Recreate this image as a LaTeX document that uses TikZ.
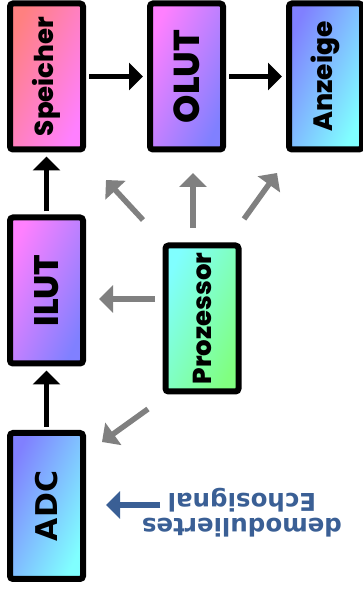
\documentclass[tikz,border=0pt]{standalone}
\usepackage{graphicx}
\usepackage{fontspec}
\newfontfamily\blockfont{Poppins}[UprightFont={* ExtraBold}, BoldFont={* ExtraBold}]
\newfontfamily\plainfont{DejaVu Sans}
\usetikzlibrary{arrows.meta, positioning}

\definecolor{salmon}{HTML}{FF8080}
\definecolor{pinkish}{HTML}{FF80FF}
\definecolor{violet}{HTML}{8080FF}
\definecolor{cyanish}{HTML}{80FFFF}
\definecolor{greenish}{HTML}{80FF80}
\definecolor{feedgray}{HTML}{808080}
\definecolor{echoblue}{HTML}{3A5F95}

\tikzset{
	block/.style 2 args={draw=black, line width=6pt, rounded corners=3pt,
		minimum width=73pt, minimum height=146pt, inner sep=0pt,
		left color=#1, right color=#2, shading angle=65},
	flow/.style={draw=black, line width=5.5pt, shorten <=3pt, shorten >=4pt,
		-{Triangle[length=14pt, width=27pt]}},
	feed/.style={draw=feedgray, line width=5.5pt,
		-{Triangle[length=14pt, width=27pt]}},
	echo/.style={draw=echoblue, line width=5.5pt,
		-{Triangle[length=14pt, width=27pt]}}
}

\begin{document}
\begin{tikzpicture}[x=1pt, y=1pt]
	\useasboundingbox (0,0) rectangle (363,589);
	% upper row
	\node[block={salmon}{pinkish}] (speicher) at (46.5,512.5)
		{\rotatebox{90}{\blockfont\fontsize{26}{30}\selectfont Speicher}};
	\node[block={pinkish}{violet}] (olut) at (186.5,512.5)
		{\rotatebox{90}{\blockfont\fontsize{36}{40}\selectfont OLUT}};
	\node[block={violet}{cyanish}] (anzeige) at (325.5,512.5)
		{\rotatebox{90}{\blockfont\fontsize{26.5}{30}\selectfont Anzeige}};
	% left column
	\node[block={pinkish}{violet}] (ilut) at (46.5,298.5)
		{\rotatebox{90}{\blockfont\fontsize{34}{38}\selectfont ILUT}};
	\node[block={violet}{cyanish}] (adc) at (46.5,83)
		{\rotatebox{90}{\plainfont\bfseries\fontsize{30}{36}\selectfont ADC}};
	\node[block={cyanish}{greenish}] (prozessor) at (202,270.5)
		{\rotatebox{90}{\blockfont\fontsize{26}{30}\selectfont Prozessor}};
	% signal chain
	\draw[flow] (adc) -- (ilut);
	\draw[flow] (ilut) -- (speicher);
	\draw[flow] (speicher) -- (olut);
	\draw[flow] (olut) -- (anzeige);
	% control lines from the processor
	\coordinate (c1a) at (143,369); \coordinate (c1b) at (106,409);
	\coordinate (c2a) at (193,361); \coordinate (c2b) at (193,416);
	\coordinate (c3a) at (244,370); \coordinate (c3b) at (277,416);
	\coordinate (c4a) at (155,290); \coordinate (c4b) at (99,290);
	\coordinate (c5a) at (148,180); \coordinate (c5b) at (102,147);
	\draw[feed] (c1a) -- (c1b);
	\draw[feed] (c2a) -- (c2b);
	\draw[feed] (c3a) -- (c3b);
	\draw[feed] (c4a) -- (c4b);
	\draw[feed] (c5a) -- (c5b);
	% input signal
	\node[rotate=180, align=center, text=echoblue, inner sep=0pt,
		font=\plainfont\bfseries\fontsize{24.5}{25}\selectfont] (signal) at (242,76)
		{demoduliertes\\Echosignal};
	\coordinate (in) at (160,84);
	\coordinate (inb) at (106,84);
	\draw[echo] (in) -- (inb);
\end{tikzpicture}
\end{document}
